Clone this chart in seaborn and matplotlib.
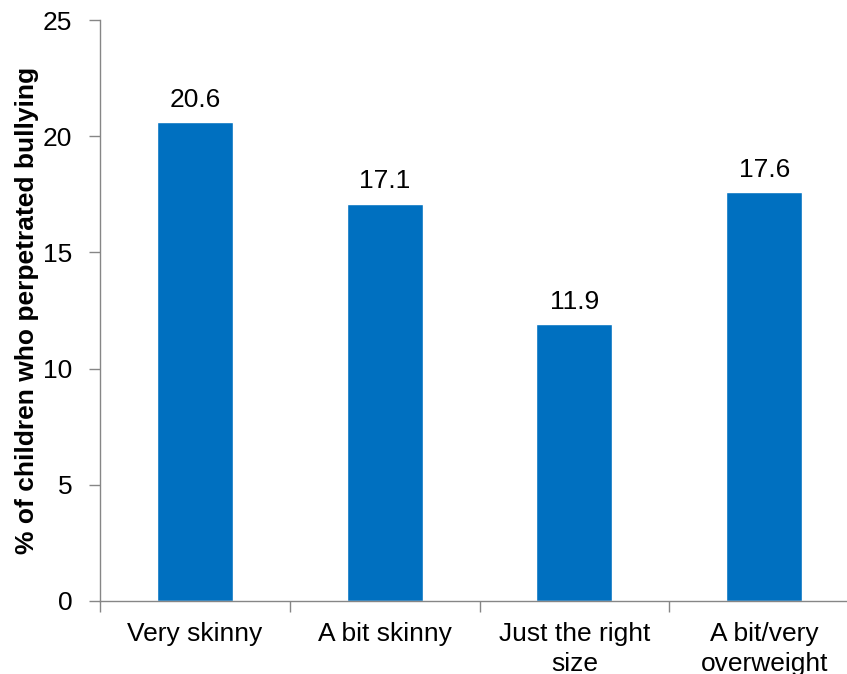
import matplotlib
matplotlib.use("Agg")
import matplotlib.pyplot as plt
import seaborn as sns
import pandas as pd
from matplotlib.ticker import FixedLocator

categories = ["Very skinny", "A bit skinny", "Just the right\nsize", "A bit/very\noverweight"]
values = [20.6, 17.1, 11.9, 17.6]
y_ticks = [0, 5, 10, 15, 20, 25]
y_label = "% of children who perpetrated bullying"

sns.set_theme(style="white")
plt.rcParams['font.family'] = ['Liberation Sans', 'DejaVu Sans']
plt.rcParams['text.color'] = 'black'
plt.rcParams['xtick.color'] = 'black'
plt.rcParams['ytick.color'] = 'black'
plt.rcParams['axes.labelcolor'] = 'black'

df = pd.DataFrame({"cat": categories, "val": values})

fig = plt.figure(figsize=(8.47, 6.74), dpi=100)
ax = fig.add_axes([100/847, 1-601/674, (859-100)/847, (601-20)/674])
sns.barplot(data=df, x="cat", y="val", color="#0070C0", width=0.4, saturation=1, ax=ax)

ax.set_xlim(-0.5, 3.5)
ax.set_ylim(0, 25)
ax.set_yticks(y_ticks)
ax.tick_params(axis='y', length=8, width=1, color="#868686", labelcolor="black",
               labelsize=19, pad=12, left=True)

ax.xaxis.set_major_locator(FixedLocator([-0.5, 0.5, 1.5, 2.5, 3.5]))
ax.xaxis.set_minor_locator(FixedLocator([0, 1, 2, 3]))
ax.set_xticklabels([], minor=False)
ax.set_xticklabels(categories, minor=True)
ax.tick_params(axis='x', which='major', length=8, width=1, color="#868686", bottom=True)
ax.tick_params(axis='x', which='minor', length=0, labelsize=19, labelcolor="black", pad=15)
for lbl in ax.get_xticklabels(minor=True):
    lbl.set_linespacing(1.3)

for s in ["top", "right"]:
    ax.spines[s].set_visible(False)
for s in ["left", "bottom"]:
    ax.spines[s].set_color("#868686")
    ax.spines[s].set_linewidth(1)

for i, v in enumerate(values):
    ax.text(i, v + 0.45, f"{v:.1f}", ha="center", va="bottom", fontsize=19, color="black")

ax.set_xlabel("")
ax.set_ylabel(y_label, fontsize=19, fontweight="bold", labelpad=3, color="black")

fig.savefig("out.png", dpi=100)
